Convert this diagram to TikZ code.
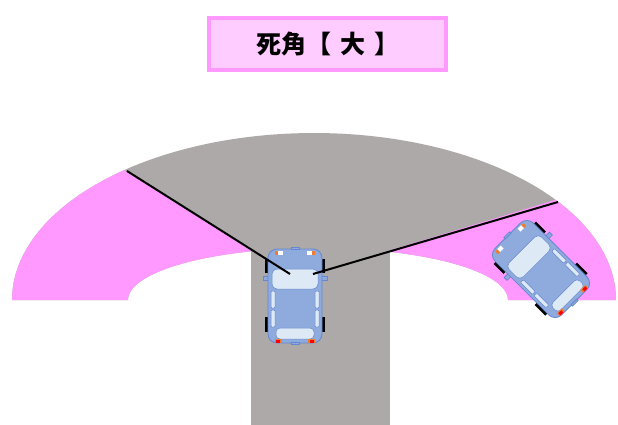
\documentclass[tikz,border=0pt]{standalone}
\usepackage{fontspec}
\newfontfamily\jpfont{Noto Sans CJK JP}
\usepackage{tikz}

\definecolor{roadgray}{RGB}{173,169,168}
\definecolor{blindpink}{RGB}{255,153,255}
\definecolor{titlepink}{RGB}{255,204,255}
\definecolor{carblue}{RGB}{143,170,220}
\definecolor{carline}{RGB}{100,136,208}
\definecolor{glass}{RGB}{222,233,246}
\definecolor{lamporange}{RGB}{237,125,49}

\tikzset{
  titlebox/.style={draw=blindpink,line width=3.5pt,fill=titlepink,
    minimum width=237pt,minimum height=52pt,inner sep=0pt},
  sightline/.style={black,line width=2pt},
  carbody/.style={draw=carline,fill=carblue,line width=0.8pt},
  glasspane/.style={draw=carline,fill=glass,line width=0.5pt},
  car/.pic={
    % wheels
    \fill[black] (-30,-37) rectangle (-26,-23);
    \fill[black] (-30,21) rectangle (-26,36);
    \fill[black] (26,-37) rectangle (30,-23);
    \fill[black] (26,21) rectangle (30,36);
    % mirrors
    \filldraw[carbody] (-32,-20) rectangle (-26,-16);
    \filldraw[carbody] (26,-20) rectangle (32,-16);
    % body
    \filldraw[carbody,rounded corners=9pt] (-27,-47) rectangle (27,47);
    \filldraw[carbody] (-4,-48.5) rectangle (4,-46.5);
    \filldraw[carbody] (-4,46.5) rectangle (4,48.5);
    % windows
    \filldraw[glasspane,rounded corners=5pt] (-23,-27) rectangle (23,-7);
    \filldraw[glasspane,rounded corners=4pt] (-19,32) rectangle (19,43);
    \filldraw[glasspane,rounded corners=1pt] (-24,-5) rectangle (-20,12);
    \filldraw[glasspane,rounded corners=1pt] (-24,14) rectangle (-20,31);
    \filldraw[glasspane,rounded corners=1pt] (20,-5) rectangle (24,12);
    \filldraw[glasspane,rounded corners=1pt] (20,14) rectangle (24,31);
    % lamps
    \fill[white] (-17,-45) rectangle (-12,-41);
    \fill[lamporange] (-20,-45) rectangle (-17,-41);
    \fill[white] (12,-45) rectangle (17,-41);
    \fill[lamporange] (17,-45) rectangle (20,-41);
    \fill[lamporange] (-20,42.5) rectangle (-13,46.5);
    \fill[red] (-19,43.5) rectangle (-15,46.5);
    \fill[lamporange] (13,42.5) rectangle (20,46.5);
    \fill[red] (15,43.5) rectangle (19,46.5);
  }
}

\begin{document}
\begin{tikzpicture}[x=1pt,y=-1pt]
\useasboundingbox (0,0) rectangle (618,425);

% road ring
\fill[roadgray] plot[domain=180:0,samples=120] ({314+302*cos(\x)},{300-167*sin(\x)})
  -- plot[domain=0:180,samples=120] ({318+190*cos(\x)},{300-52*sin(\x)}) -- cycle;

% blind zones
\begin{scope}
\clip plot[domain=180:0,samples=120] ({314+302*cos(\x)},{300-167*sin(\x)})
  -- plot[domain=0:180,samples=120] ({318+190*cos(\x)},{300-52*sin(\x)}) -- cycle;
\fill[blindpink] (-199,-32) -- (453,376) -- (453,500) -- (-199,500) -- cycle; %left
\fill[blindpink] (66,349) -- (683,161) -- (683,500) -- (66,500) -- cycle; %right
\end{scope}

% road down
\fill[roadgray] (251,240) rectangle (390,425);

\pic (carA) at (295,296) {car};
\pic[rotate=45] (carB) at (541,269) {car};

% sight lines
\coordinate (mirrorL) at (290,274);
\coordinate (mirrorR) at (313,274);
\coordinate (edgeL) at (127,171);
\coordinate (edgeR) at (558,202);
\draw[sightline] (mirrorL) -- (edgeL);
\draw[sightline] (mirrorR) -- (edgeR);

\node[titlebox] (title) at (327.5,44) {\jpfont\fontsize{25}{30}\selectfont\bfseries
  死角【\hspace{9pt}大\hspace{9pt}】};

\end{tikzpicture}
\end{document}
